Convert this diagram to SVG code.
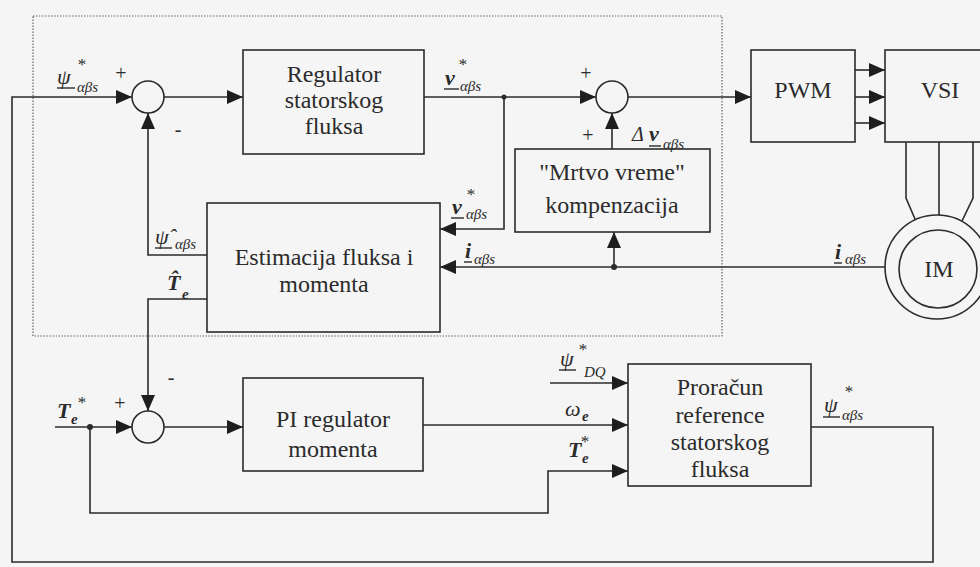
<svg xmlns="http://www.w3.org/2000/svg" width="980" height="567" viewBox="0 0 980 567" font-family="Liberation Serif, DejaVu Serif, serif">
<style>
.ln{stroke:#2b2b2b;stroke-width:1.6;fill:none}
.box{fill:none;stroke:#2b2b2b;stroke-width:1.6}
.ul{stroke:#2b2b2b;stroke-width:1.4}
text{fill:#2b2b2b}
.t{font-size:24px;text-anchor:middle}
.m{font-style:italic;font-size:22px}
.b{font-weight:bold}
.s{font-style:italic;font-size:15px}
.st{font-size:17px;text-anchor:middle}
.pm{font-size:20px;text-anchor:middle}
</style>
<defs>
<marker id="arr" markerUnits="userSpaceOnUse" markerWidth="17" markerHeight="14" refX="16" refY="7" orient="auto">
<path d="M0,0 L16,7 L0,14 z" fill="#1e1e1e"/>
</marker>
</defs>
<rect x="0" y="0" width="980" height="567" fill="#f5f5f5"/>
<rect id="dotted-frame" x="33" y="16" width="689" height="320" fill="none" stroke="#666" stroke-width="1.2" stroke-dasharray="1.5,1.5"/>

<g id="connectors">
<polyline class="ln" points="811,427 933,427 933,562 12,562 12,97 132,97" marker-end="url(#arr)"/>
<line class="ln" x1="164" y1="97" x2="243" y2="97" marker-end="url(#arr)"/>
<line class="ln" x1="424" y1="97" x2="596" y2="97" marker-end="url(#arr)"/>
<polyline class="ln" points="504,97 504,229 440,229" marker-end="url(#arr)"/>
<circle cx="504" cy="97" r="2.5" fill="#2b2b2b"/>
<line class="ln" x1="628" y1="97" x2="751" y2="97" marker-end="url(#arr)"/>
<line class="ln" x1="855" y1="70" x2="885" y2="70" marker-end="url(#arr)"/>
<line class="ln" x1="855" y1="97" x2="885" y2="97" marker-end="url(#arr)"/>
<line class="ln" x1="855" y1="123" x2="885" y2="123" marker-end="url(#arr)"/>
<polyline class="ln" points="906,142 906,198 915,219"/>
<line class="ln" x1="939" y1="142" x2="939" y2="215"/>
<polyline class="ln" points="973,142 973,198 962,221"/>
<line class="ln" x1="885" y1="267" x2="440" y2="267" marker-end="url(#arr)"/>
<circle cx="614" cy="267" r="3" fill="#2b2b2b"/>
<line class="ln" x1="614" y1="267" x2="614" y2="232" marker-end="url(#arr)"/>
<line class="ln" x1="612" y1="149" x2="612" y2="113" marker-end="url(#arr)"/>
<polyline class="ln" points="207,255 148,255 148,113" marker-end="url(#arr)"/>
<polyline class="ln" points="207,299 148,299 148,411" marker-end="url(#arr)"/>
<line class="ln" x1="55" y1="427" x2="132" y2="427" marker-end="url(#arr)"/>
<circle cx="90" cy="427" r="3" fill="#2b2b2b"/>
<polyline class="ln" points="90,427 90,513 548,513 548,471 628,471" marker-end="url(#arr)"/>
<line class="ln" x1="164" y1="427" x2="243" y2="427" marker-end="url(#arr)"/>
<line class="ln" x1="423" y1="425" x2="628" y2="425" marker-end="url(#arr)"/>
<line class="ln" x1="550" y1="383" x2="628" y2="383" marker-end="url(#arr)"/>
</g>

<g id="sum1"><circle class="box" cx="148" cy="97" r="16"/></g>
<g id="sum2"><circle class="box" cx="612" cy="97" r="16"/></g>
<g id="sum3"><circle class="box" cx="148" cy="427" r="16"/></g>

<g id="regulator-fluksa">
<rect class="box" x="243" y="50" width="181" height="104"/>
<text class="t" x="334" y="82">Regulator</text>
<text class="t" x="334" y="108">statorskog</text>
<text class="t" x="334" y="134">fluksa</text>
</g>
<g id="mrtvo-vreme">
<rect class="box" x="515" y="149" width="195" height="83"/>
<text class="t" x="612" y="180">"Mrtvo vreme"</text>
<text class="t" x="612" y="213">kompenzacija</text>
</g>
<g id="estimacija">
<rect class="box" x="207" y="203" width="233" height="129"/>
<text class="t" x="324" y="265">Estimacija fluksa i</text>
<text class="t" x="324" y="292">momenta</text>
</g>
<g id="pwm">
<rect class="box" x="751" y="50" width="104" height="92"/>
<text class="t" x="803" y="98">PWM</text>
</g>
<g id="vsi">
<rect class="box" x="885" y="50" width="110" height="92"/>
<text class="t" x="940" y="98">VSI</text>
</g>
<g id="im">
<circle class="box" cx="937" cy="267" r="52"/>
<circle class="box" cx="938" cy="269" r="39"/>
<text class="t" x="939" y="277">IM</text>
</g>
<g id="pi-regulator">
<rect class="box" x="243" y="378" width="180" height="93"/>
<text class="t" x="333" y="427">PI regulator</text>
<text class="t" x="333" y="457">momenta</text>
</g>
<g id="proracun">
<rect class="box" x="628" y="364" width="183" height="122"/>
<text class="t" x="720" y="395">Proračun</text>
<text class="t" x="720" y="423">reference</text>
<text class="t" x="720" y="450">statorskog</text>
<text class="t" x="720" y="477">fluksa</text>
</g>

<g id="labels">
<text class="m" x="57" y="84">ψ</text>
<line class="ul" x1="57" y1="88" x2="75" y2="88"/>
<text class="s" x="77" y="92">αβs</text>
<text class="st" x="82" y="70">*</text>
<text class="pm" x="121" y="80">+</text>
<text class="pm" x="178" y="136">-</text>
<text class="m b" x="445" y="85">v</text>
<line class="ul" x1="444" y1="89" x2="459" y2="89"/>
<text class="s" x="460" y="91">αβs</text>
<text class="st" x="463" y="70">*</text>
<text class="pm" x="586" y="80">+</text>
<text class="pm" x="588" y="142">+</text>
<text class="m" x="632" y="141" style="font-size:20px">Δ</text>
<text class="m b" x="649" y="141">v</text>
<line class="ul" x1="649" y1="146" x2="661" y2="146"/>
<text class="s" x="663" y="149">αβs</text>
<text class="m b" x="452" y="214">v</text>
<line class="ul" x1="451" y1="218" x2="464" y2="218"/>
<text class="s" x="466" y="219">αβs</text>
<text class="st" x="471" y="200">*</text>
<text class="m b" x="465" y="258">i</text>
<line class="ul" x1="464" y1="262" x2="472" y2="262"/>
<text class="s" x="474" y="264">αβs</text>
<text class="m b" x="835" y="259">i</text>
<line class="ul" x1="834" y1="263" x2="842" y2="263"/>
<text class="s" x="845" y="264">αβs</text>
<text class="m" x="155" y="244">ψ̂</text>
<line class="ul" x1="155" y1="248" x2="172" y2="248"/>
<text class="s" x="175" y="249">αβs</text>
<text class="m b" x="167" y="290">T̂</text>
<text class="s b" x="182" y="299">e</text>
<text class="pm" x="171" y="384">-</text>
<text class="m b" x="57" y="418">T</text>
<text class="s b" x="71" y="424">e</text>
<text class="st" x="82" y="408">*</text>
<text class="pm" x="120" y="410">+</text>
<text class="m" x="560" y="366">ψ</text>
<line class="ul" x1="559" y1="370" x2="576" y2="370"/>
<text class="s" x="584" y="377">DQ</text>
<text class="st" x="583" y="355">*</text>
<text class="m" x="565" y="416">ω</text>
<text class="s b" x="582" y="421">e</text>
<text class="m b" x="568" y="457">T</text>
<text class="s b" x="582" y="463">e</text>
<text class="st" x="585" y="447">*</text>
<text class="m" x="824" y="412">ψ</text>
<line class="ul" x1="823" y1="417" x2="840" y2="417"/>
<text class="s" x="842" y="420">αβs</text>
<text class="st" x="849" y="397">*</text>
</g>
</svg>
